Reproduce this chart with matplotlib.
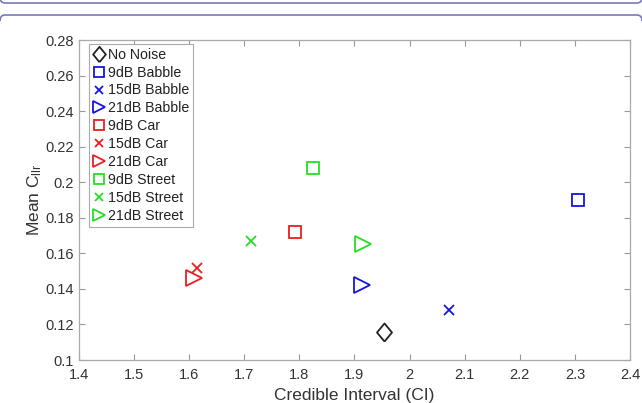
import matplotlib.pyplot as plt
from matplotlib.patches import PathPatch
from matplotlib.path import Path

plt.rcParams['font.family'] = ['Liberation Sans', 'DejaVu Sans']
plt.rcParams['mathtext.fontset'] = 'custom'
plt.rcParams['mathtext.rm'] = 'Liberation Sans'
plt.rcParams['mathtext.it'] = 'Liberation Sans:italic'

# mean Cllr against credible interval for each noise condition
labels = ['No Noise',
          '9dB Babble', '15dB Babble', '21dB Babble',
          '9dB Car', '15dB Car', '21dB Car',
          '9dB Street', '15dB Street', '21dB Street']
ci = [1.953, 2.306, 2.071, 1.914, 1.792, 1.615, 1.609, 1.824, 1.713, 1.916]
cllr = [0.116, 0.190, 0.128, 0.142, 0.172, 0.152, 0.146, 0.208, 0.167, 0.165]

diamond = [(0, -1), (0.83, 0), (0, 1), (-0.83, 0), (0, -1)]
markers = [diamond, 's', 'x', '>', 's', 'x', '>', 's', 'x', '>']
sizes = [13, 8.5, 7.5, 11, 8.5, 7.5, 11, 8.5, 7.5, 11]
colors = ['#222222', '#1515dd', '#1515dd', '#1515dd',
          '#ee1c1c', '#ee1c1c', '#ee1c1c',
          '#22e022', '#22e022', '#22e022']

W, H = 642, 403
fig = plt.figure(figsize=(W / 100, H / 100), dpi=100)
ax = fig.add_axes([79 / W, 1 - 360 / H, 551 / W, 320 / H])

for x, y, m, s, c, lab in zip(ci, cllr, markers, sizes, colors, labels):
    ax.plot(x, y, linestyle='none', marker=m, markersize=s,
            markerfacecolor='none', markeredgecolor=c, markeredgewidth=1.3,
            label=lab)

ax.set_xlim(1.4, 2.4)
ax.set_ylim(0.1, 0.28)
ax.set_xticks([1.4, 1.5, 1.6, 1.7, 1.8, 1.9, 2.0, 2.1, 2.2, 2.3, 2.4])
ax.set_xticklabels(['1.4', '1.5', '1.6', '1.7', '1.8', '1.9', '2', '2.1',
                    '2.2', '2.3', '2.4'])
ax.set_yticks([0.1, 0.12, 0.14, 0.16, 0.18, 0.2, 0.22, 0.24, 0.26, 0.28])
ax.set_yticklabels(['0.1', '0.12', '0.14', '0.16', '0.18', '0.2', '0.22',
                    '0.24', '0.26', '0.28'])
ax.tick_params(direction='in', top=True, right=True, length=4, width=0.8,
               color='#999999', labelcolor='#333333', labelsize=10.5)
ax.tick_params(axis='x', pad=6)
ax.tick_params(axis='y', pad=4)
for sp in ax.spines.values():
    sp.set_color('#aaaaaa')
    sp.set_linewidth(0.9)

ax.set_xlabel('Credible Interval (CI)', fontsize=12.5, color='#333333',
              labelpad=4)
ax.set_ylabel(r'Mean C$_{\mathrm{llr}}$', fontsize=12.5, color='#333333',
              labelpad=1)

leg = ax.legend(loc='upper left', bbox_to_anchor=(10 / 551, 1 - 4 / 320),
                fontsize=10.2, handlelength=0.9, handletextpad=0.2,
                labelspacing=0.28, borderpad=0.25, borderaxespad=0,
                markerscale=0.85, fancybox=False, framealpha=1,
                edgecolor='#aaaaaa')
leg.get_frame().set_linewidth(0.8)
for t in leg.get_texts():
    t.set_color('#222222')


# rounded page frame edges at the top (pixel coords, y up)
def frame_edge(y, bend):
    r = 5
    verts = [(0, y + bend), (0, y), (r, y), (W - r, y), (W, y), (W, y + bend)]
    codes = [Path.MOVETO, Path.CURVE3, Path.CURVE3, Path.LINETO,
             Path.CURVE3, Path.CURVE3]
    verts = [(vx / W, vy / H) for vx, vy in verts]
    fig.patches.append(PathPatch(Path(verts, codes), transform=fig.transFigure,
                                 facecolor='none', edgecolor='#7a78b8',
                                 linewidth=1.2))


frame_edge(H - 3, 6)
frame_edge(H - 15, -6)

fig.savefig('out.png', dpi=100)
